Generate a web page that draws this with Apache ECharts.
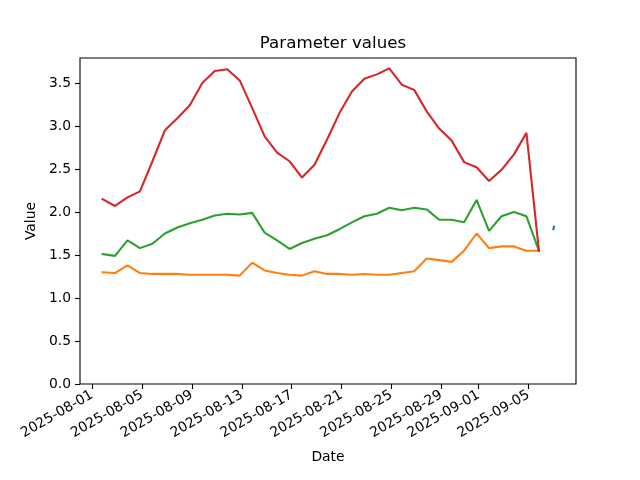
<!DOCTYPE html>
<html><head><meta charset="utf-8">
<script src="https://cdn.jsdelivr.net/npm/echarts@6/dist/echarts.min.js"></script>
<style>html,body{margin:0;padding:0;background:#fff}#c{width:640px;height:480px}</style>
</head><body><div id="c"></div>
<script>
const dates = [
  '2025-08-01T20:00:00Z','2025-08-02T20:00:00Z','2025-08-03T20:00:00Z','2025-08-04T20:00:00Z',
  '2025-08-05T20:00:00Z','2025-08-06T20:00:00Z','2025-08-07T20:00:00Z','2025-08-08T20:00:00Z',
  '2025-08-09T20:00:00Z','2025-08-10T20:00:00Z','2025-08-11T20:00:00Z','2025-08-12T20:00:00Z',
  '2025-08-13T20:00:00Z','2025-08-14T20:00:00Z','2025-08-15T20:00:00Z','2025-08-16T20:00:00Z',
  '2025-08-17T20:00:00Z','2025-08-18T20:00:00Z','2025-08-19T20:00:00Z','2025-08-20T20:00:00Z',
  '2025-08-21T20:00:00Z','2025-08-22T20:00:00Z','2025-08-23T20:00:00Z','2025-08-24T20:00:00Z',
  '2025-08-25T20:00:00Z','2025-08-26T20:00:00Z','2025-08-27T20:00:00Z','2025-08-28T20:00:00Z',
  '2025-08-29T20:00:00Z','2025-08-30T20:00:00Z','2025-08-31T20:00:00Z','2025-09-01T20:00:00Z',
  '2025-09-02T20:00:00Z','2025-09-03T20:00:00Z','2025-09-04T20:00:00Z','2025-09-05T20:00:00Z'
];
const redValues = [2.15, 2.07, 2.17, 2.24, 2.59, 2.95, 3.09, 3.24, 3.50, 3.64, 3.66, 3.53,
  3.21, 2.88, 2.69, 2.59, 2.40, 2.55, 2.84, 3.15, 3.40, 3.55, 3.60, 3.67,
  3.48, 3.42, 3.17, 2.97, 2.83, 2.58, 2.52, 2.36, 2.49, 2.67, 2.92, 1.55];
const greenValues = [1.51, 1.49, 1.67, 1.58, 1.63, 1.75, 1.82, 1.87, 1.91, 1.96, 1.98, 1.97,
  1.99, 1.76, 1.67, 1.57, 1.64, 1.69, 1.73, 1.80, 1.88, 1.95, 1.98, 2.05,
  2.02, 2.05, 2.03, 1.91, 1.91, 1.88, 2.14, 1.78, 1.95, 2.00, 1.95, 1.55];
const orangeValues = [1.30, 1.29, 1.38, 1.29, 1.28, 1.28, 1.28, 1.27, 1.27, 1.27, 1.27, 1.26,
  1.41, 1.32, 1.29, 1.27, 1.26, 1.31, 1.28, 1.28, 1.27, 1.28, 1.27, 1.27,
  1.29, 1.31, 1.46, 1.44, 1.42, 1.55, 1.75, 1.58, 1.60, 1.60, 1.55, 1.55];
const blueDates = ['2025-09-07T00:00:00Z', '2025-09-07T01:00:00Z'];
const blueValues = [1.80, 1.83];
const xTickLabels = ['2025-08-01','2025-08-05','2025-08-09','2025-08-13','2025-08-17',
  '2025-08-21','2025-08-25','2025-08-29','2025-09-01','2025-09-05'];
const yTicks = [0, 0.5, 1.0, 1.5, 2.0, 2.5, 3.0, 3.5];

const t = s => Date.parse(s);
const pair = (ds, vs) => ds.map((d, i) => [t(d), vs[i]]);
const allT = dates.concat(blueDates.slice(0, 1)).map(t);
const tMin = Math.min(...allT), tMax = Math.max(...allT);
const xMin = tMin - 0.05 * (tMax - tMin), xMax = tMax + 0.05 * (tMax - tMin);
const allV = redValues.concat(greenValues, orangeValues, blueValues);
const vMin = Math.min(...allV), vMax = Math.max(...allV);
const yMax = vMax + 0.05 * (vMax - vMin);
const xTickVals = xTickLabels.map(s => Date.parse(s + 'T00:00:00Z'));
const fmt = v => new Date(v).toISOString().slice(0, 10);
const FONT = 'DejaVu Sans';
const LW = 2.08;

const lineSeries = (name, color, data) => ({
  name, type: 'line', data, showSymbol: false, symbol: 'none',
  lineStyle: { color, width: LW, cap: 'square' }, itemStyle: { color },
  animation: false, silent: true
});

const chart = echarts.init(document.getElementById('c'), null, { renderer: 'canvas' });
chart.setOption({
  animation: false,
  backgroundColor: '#fff',
  title: {
    text: 'Parameter values', left: 328, top: 30, textAlign: 'center',
    textStyle: { fontFamily: FONT, fontSize: 16.7, fontWeight: 'normal', color: '#000' }
  },
  grid: { left: 80, right: 64, top: 58, bottom: 96, show: true, borderColor: '#000', borderWidth: 1.1, backgroundColor: 'transparent' },
  xAxis: {
    type: 'value', min: xMin, max: xMax,
    name: 'Date', nameLocation: 'middle', nameGap: 66,
    nameTextStyle: { fontFamily: FONT, fontSize: 13.9, color: '#000' },
    axisLine: { show: false },
    splitLine: { show: false },
    axisTick: { show: true, customValues: xTickVals, length: 5, lineStyle: { color: '#000', width: 1.1 } },
    axisLabel: { customValues: xTickVals, formatter: fmt, rotate: 30, margin: 10,
      fontFamily: FONT, fontSize: 13.9, color: '#000' }
  },
  yAxis: {
    type: 'value', min: 0, max: yMax,
    name: 'Value', nameLocation: 'middle', nameGap: 37,
    nameTextStyle: { fontFamily: FONT, fontSize: 13.9, color: '#000' },
    axisLine: { show: false },
    splitLine: { show: false },
    axisTick: { show: true, customValues: yTicks, length: 5, lineStyle: { color: '#000', width: 1.1 } },
    axisLabel: { customValues: yTicks, formatter: v => v.toFixed(1), margin: 9,
      fontFamily: FONT, fontSize: 13.9, color: '#000' }
  },
  series: [
    lineSeries('blue', '#1f77b4', pair(blueDates, blueValues)),
    lineSeries('orange', '#ff7f0e', pair(dates, orangeValues)),
    lineSeries('green', '#2ca02c', pair(dates, greenValues)),
    lineSeries('red', '#d62728', pair(dates, redValues))
  ]
});
</script></body></html>
